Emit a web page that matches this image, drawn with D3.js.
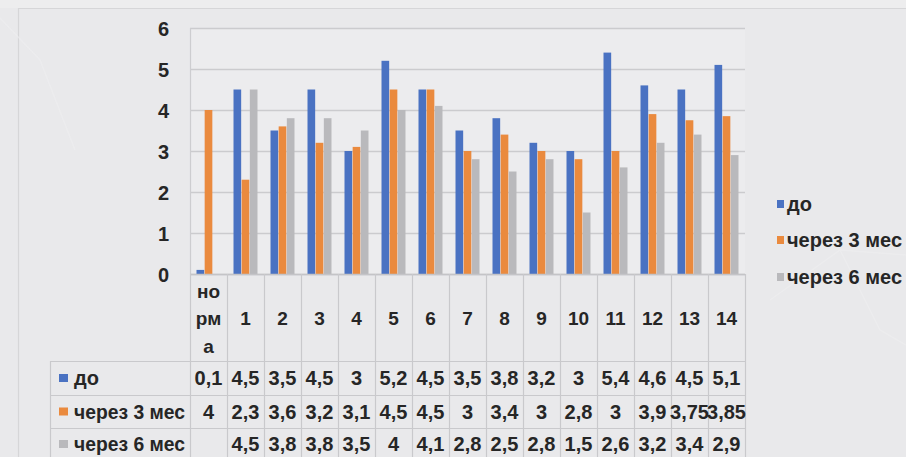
<!DOCTYPE html>
<html>
<head>
<meta charset="utf-8">
<script src="https://cdn.jsdelivr.net/npm/d3@7"></script>
<style>
  html, body { margin: 0; padding: 0; background: #e9e9eb; }
  svg { display: block; }
  text { font-family: "Liberation Sans", Arial, sans-serif; font-weight: bold; fill: #262626; }
</style>
</head>
<body>
<svg id="chart" width="906" height="457"></svg>
<script>
// Categories and series values
const categories = ["норма", "1", "2", "3", "4", "5", "6", "7", "8", "9", "10", "11", "12", "13", "14"];
const categoryLines = { "норма": ["но", "рм", "а"] };
const seriesNames = ["до", "через 3 мес", "через 6 мес"];
const valuesBefore = [0.1, 4.5, 3.5, 4.5, 3, 5.2, 4.5, 3.5, 3.8, 3.2, 3, 5.4, 4.6, 4.5, 5.1];
const values3m = [4, 2.3, 3.6, 3.2, 3.1, 4.5, 4.5, 3, 3.4, 3, 2.8, 3, 3.9, 3.75, 3.85];
const values6m = [null, 4.5, 3.8, 3.8, 3.5, 4, 4.1, 2.8, 2.5, 2.8, 1.5, 2.6, 3.2, 3.4, 2.9];
const yTicks = [0, 1, 2, 3, 4, 5, 6];

const seriesColors = ["#4a72c2", "#ea8a3e", "#b9b9bc"];
const seriesValues = [valuesBefore, values3m, values6m];

const svg = d3.select("#chart");
const W = 906, H = 457;

// page background with a slide frame
svg.append("rect").attr("width", W).attr("height", H).attr("fill", "#e9e9eb");
svg.append("rect").attr("x", 0).attr("y", 0).attr("width", W).attr("height", 8).attr("fill", "#ededee");
svg.append("path")
  .attr("d", `M18.5,${H} V8.5 H${W}`)
  .attr("fill", "none").attr("stroke", "#d6d6d8").attr("stroke-width", 1.2);

// faint background ornament
const deco = svg.append("g").attr("stroke", "#efeff0").attr("stroke-width", 1.5).attr("fill", "none").attr("opacity", 0.6);
deco.append("path").attr("d", "M0,18 L40,60 L75,150");
deco.append("path").attr("d", "M770,300 L840,250 L906,255");
deco.append("path").attr("d", "M840,250 L880,330 L906,345");

const plotLeft = 190, plotRight = 745, plotTop = 28, plotBottom = 274;

const x = d3.scaleBand().domain(categories).range([plotLeft, plotRight]).paddingInner(0).paddingOuter(0);
const groupW = 24;
const xs = d3.scaleBand().domain(seriesNames).range([0, groupW]).paddingInner(0.06);
const y = d3.scaleLinear().domain([0, 6]).range([plotBottom, plotTop]);

// plot area
svg.append("rect")
  .attr("x", plotLeft).attr("y", plotTop)
  .attr("width", plotRight - plotLeft).attr("height", plotBottom - plotTop)
  .attr("fill", "#ececee");

// gridlines
svg.append("g")
  .selectAll("line").data(yTicks).join("line")
  .attr("x1", plotLeft).attr("x2", plotRight)
  .attr("y1", d => Math.round(y(d)) + 0.5).attr("y2", d => Math.round(y(d)) + 0.5)
  .attr("stroke", "#cbcbce").attr("stroke-width", 1.4);

// value axis line
svg.append("line")
  .attr("x1", plotLeft + 0.5).attr("x2", plotLeft + 0.5)
  .attr("y1", plotTop).attr("y2", plotBottom)
  .attr("stroke", "#cdcdd0").attr("stroke-width", 1.2);

// y-axis labels via d3 axis
const yAxis = d3.axisLeft(y).tickValues(yTicks).tickSize(0).tickPadding(0).tickFormat(d3.format("d"));
const yAxisG = svg.append("g").attr("transform", `translate(${plotLeft - 21},0)`).call(yAxis);
yAxisG.select(".domain").remove();
yAxisG.selectAll("text")
  .attr("font-size", 20).attr("font-weight", "bold")
  .attr("font-family", "'Liberation Sans', Arial, sans-serif")
  .attr("fill", "#262626")
  .attr("dy", "0.36em");

// bars
const groups = svg.append("g").selectAll("g").data(categories).join("g")
  .attr("transform", c => `translate(${x(c) + (x.bandwidth() - groupW) / 2},0)`);

groups.selectAll("rect")
  .data((c, i) => seriesNames.map((s, k) => ({ s, k, v: seriesValues[k][i] })).filter(d => d.v != null))
  .join("rect")
  .attr("x", d => xs(d.s))
  .attr("width", xs.bandwidth())
  .attr("y", d => y(d.v))
  .attr("height", d => plotBottom - y(d.v))
  .attr("fill", d => seriesColors[d.k]);

// data table
const tableLeft = 50;
const rowTops = [274, 361, 395, 428, 461];
const lineColor = "#c9c9cc";
const table = svg.append("g");

// horizontal rules
table.append("line").attr("x1", plotLeft).attr("x2", plotRight)
  .attr("y1", rowTops[0] + 0.5).attr("y2", rowTops[0] + 0.5)
  .attr("stroke", "#c4c4c7").attr("stroke-width", 1.3);
[rowTops[1], rowTops[2], rowTops[3]].forEach(yy => {
  table.append("line").attr("x1", tableLeft).attr("x2", plotRight)
    .attr("y1", yy + 0.5).attr("y2", yy + 0.5)
    .attr("stroke", lineColor).attr("stroke-width", 1.2);
});

// vertical rules
const bounds = categories.map(c => x(c)).concat([plotRight]);
table.selectAll("line.v").data(bounds).join("line").attr("class", "v")
  .attr("x1", d => Math.round(d) + 0.5).attr("x2", d => Math.round(d) + 0.5)
  .attr("y1", rowTops[0]).attr("y2", H)
  .attr("stroke", lineColor).attr("stroke-width", 1.2);
table.append("line")
  .attr("x1", tableLeft + 0.5).attr("x2", tableLeft + 0.5)
  .attr("y1", rowTops[1]).attr("y2", H)
  .attr("stroke", lineColor).attr("stroke-width", 1.2);

// category header cells
const header = table.append("g").selectAll("g").data(categories).join("g")
  .attr("transform", c => `translate(${x(c) + x.bandwidth() / 2},0)`);
header.each(function(c) {
  const g = d3.select(this);
  const lines = categoryLines[c];
  if (lines) {
    const ys = [298, 325, 353];
    lines.forEach((t, i) => g.append("text").attr("y", ys[i]).attr("text-anchor", "middle")
      .attr("font-size", 19).text(t));
  } else {
    g.append("text").attr("y", 325).attr("text-anchor", "middle")
      .attr("font-size", 19).text(c);
  }
});

// series rows
const rowCenters = [378, 411.5, 444];
seriesNames.forEach((s, k) => {
  const cy = rowCenters[k];
  table.append("rect").attr("x", 59).attr("y", cy - 4).attr("width", 9).attr("height", 8).attr("fill", seriesColors[k]);
  table.append("text").attr("x", 74).attr("y", cy + 7)
    .attr("font-size", 20).attr("textLength", k === 0 ? null : 111).attr("lengthAdjust", "spacingAndGlyphs")
    .text(s);
  table.append("g").selectAll("text").data(categories.map((c, i) => ({ c, v: seriesValues[k][i] })).filter(d => d.v != null))
    .join("text")
    .attr("transform", d => `translate(${x(d.c) + x.bandwidth() / 2},${cy + 7})`)
    .attr("text-anchor", "middle")
    .attr("font-size", 20)
    .text(d => String(d.v).replace(".", ","));
});

// legend
const legend = svg.append("g");
const legendYs = [204, 240, 277];
seriesNames.forEach((s, k) => {
  legend.append("rect").attr("x", 777).attr("y", legendYs[k] - 4).attr("width", 7).attr("height", 8).attr("fill", seriesColors[k]);
  legend.append("text").attr("x", 787).attr("y", legendYs[k] + 7)
    .attr("font-size", 20)
    .attr("textLength", k === 0 ? null : 115).attr("lengthAdjust", "spacingAndGlyphs")
    .text(s);
});
</script>
</body>
</html>
